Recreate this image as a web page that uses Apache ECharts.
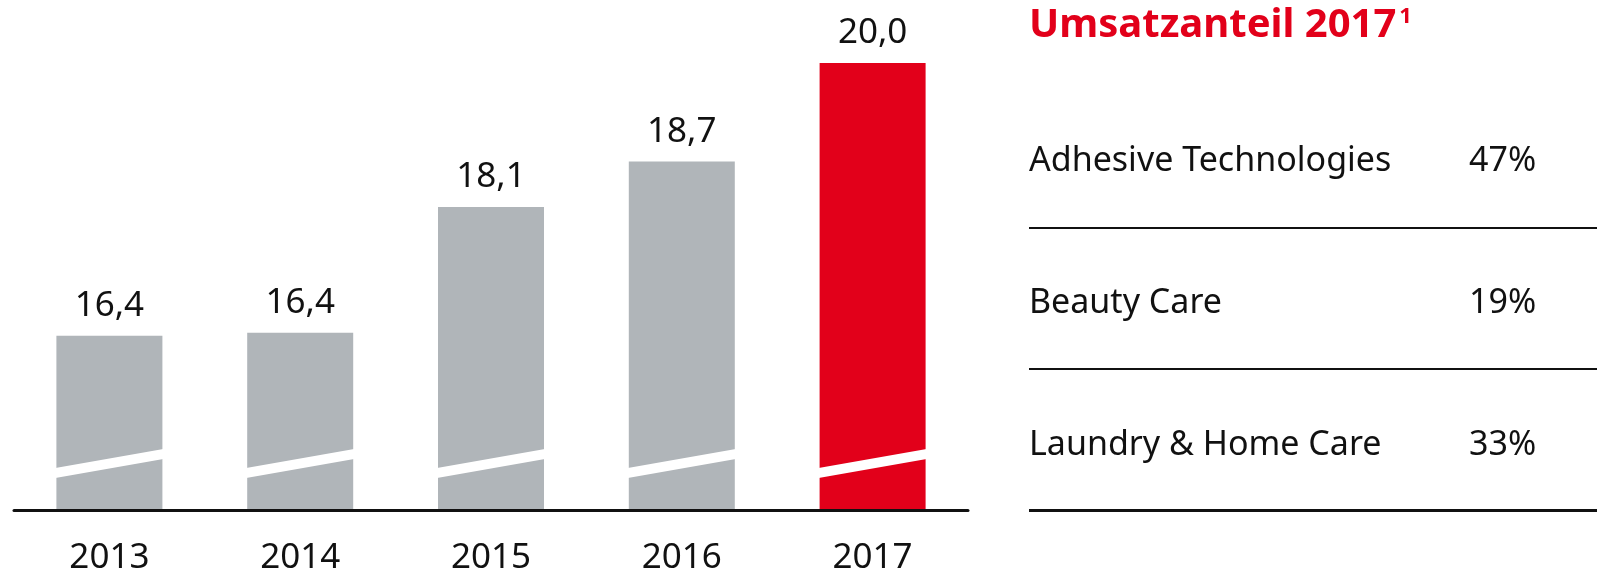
<!DOCTYPE html>
<html>
<head>
<meta charset="utf-8">
<title>Umsatz 2013-2017</title>
<script src="https://cdn.jsdelivr.net/npm/echarts@6/dist/echarts.min.js"></script>
<style>
  html, body { margin: 0; padding: 0; background: #fff; }
  #chart { width: 1597px; height: 572px; }
</style>
</head>
<body>
<div id="chart"></div>
<script>
// 데이터
const years = ["2013", "2014", "2015", "2016", "2017"];
const sales = [16.40, 16.44, 18.1, 18.7, 20.0];
const segments = ["Adhesive Technologies", "Beauty Care", "Laundry & Home Care"];
const shares = [47, 19, 33];
const tableTitle = "Umsatzanteil 2017";
const footnote = "1";

const RED = "#e2001a";
const GRAY = "#b0b5b9";
const INK = "#111111";
const FONT = "'Noto Sans', 'Open Sans', sans-serif";

const yMin = 14.1;   // 축 중단 (broken axis)
const yMax = 20.0;
const barW = 106;

let chart = echarts.init(document.getElementById("chart"));

// 오른쪽 표
let tableX = 1029;
let rowY = [161, 303, 445];
let lineY = [228, 369, 510.5];
let graphics = [
  {
    type: "text",
    x: tableX,
    y: 4,
    style: {
      text: "{t|" + tableTitle + "}{s|" + footnote + "}",
      rich: {
        t: { fontFamily: FONT, fontWeight: "bold", fontSize: 40, lineHeight: 44, fill: RED },
        s: { fontFamily: FONT, fontWeight: "bold", fontSize: 22, lineHeight: 22, fill: RED,
             verticalAlign: "top", padding: [2, 0, 0, 3] },
      },
    },
  },
];
segments.forEach(function (name, i) {
  graphics.push({
    type: "text",
    x: tableX,
    y: rowY[i],
    style: { text: name, font: "34px " + FONT, fill: INK, verticalAlign: "middle" },
  });
  graphics.push({
    type: "text",
    x: 1469,
    y: rowY[i],
    style: { text: shares[i] + "%", font: "34px " + FONT, fill: INK, verticalAlign: "middle" },
  });
  graphics.push({
    type: "line",
    shape: { x1: tableX, y1: lineY[i], x2: 1597, y2: lineY[i] },
    style: { stroke: INK, lineWidth: i == 2 ? 3 : 2 },
  });
});

let option = {
  animation: false,
  grid: { left: 14, right: 629, top: 63, bottom: 62, outerBoundsMode: "none", containLabel: false },
  xAxis: {
    type: "category",
    data: years,
    z: 10,
    axisLine: { lineStyle: { color: INK, width: 3 } },
    axisTick: { show: false },
    axisLabel: { color: INK, fontSize: 35, fontFamily: FONT, margin: 31 },
  },
  yAxis: {
    type: "value",
    min: yMin,
    max: yMax,
    show: false,
  },
  series: [
    {
      type: "bar",
      barWidth: barW,
      data: sales.map(function (v, i) {
        return { value: v, itemStyle: { color: i == sales.length - 1 ? RED : GRAY } };
      }),
      label: {
        show: true,
        position: "top",
        distance: 12,
        color: INK,
        fontSize: 35,
        fontFamily: FONT,
        formatter: function (p) {
          return p.value.toFixed(1).replace(".", ",");
        },
      },
    },
    {
      // 막대 하단의 흰색 사선 (축 중단 표시)
      type: "custom",
      z: 5,
      data: years.map(function (y, i) { return [i]; }),
      encode: { x: 0 },
      renderItem: function (params, api) {
        let base = api.coord([api.value(0), yMin]);
        let x0 = base[0] - barW / 2 - 1;
        let x1 = base[0] + barW / 2 + 1;
        let b = base[1];
        return {
          type: "polygon",
          shape: { points: [[x0, b - 42], [x1, b - 61], [x1, b - 51], [x0, b - 32]] },
          style: { fill: "#ffffff" },
        };
      },
    },
  ],
  graphic: graphics,
};
chart.setOption(option);
</script>
</body>
</html>
